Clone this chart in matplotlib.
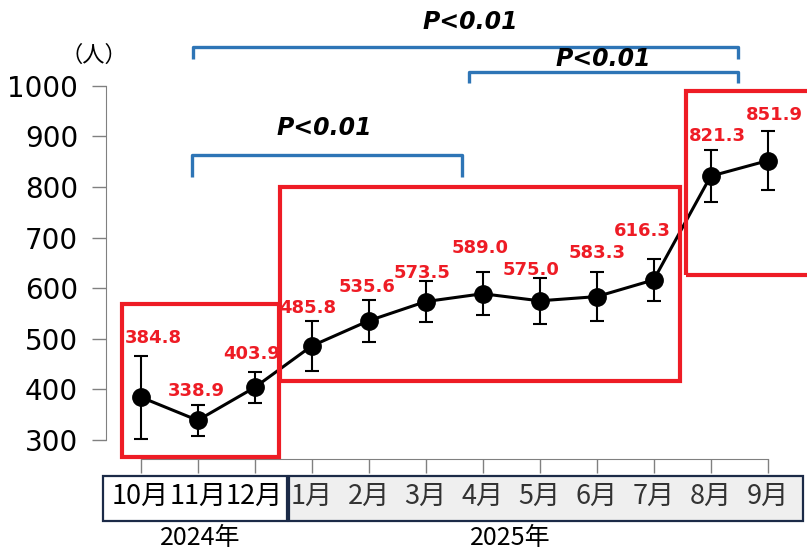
import matplotlib
matplotlib.use("Agg")
import matplotlib.pyplot as plt
from matplotlib.patches import Rectangle

plt.rcParams['font.family'] = ['DejaVu Sans', 'Noto Sans CJK JP']

# ---- data ----
months = ['10月', '11月', '12月', '1月', '2月', '3月', '4月', '5月', '6月', '7月', '8月', '9月']
means = [384.8, 338.9, 403.9, 485.8, 535.6, 573.5, 589.0, 575.0, 583.3, 616.3, 821.3, 851.9]
errors = [82, 31, 31, 49, 41, 40, 43, 45, 48, 41, 52, 58]
yticks = [300, 400, 500, 600, 700, 800, 900, 1000]
years = ['2024年', '2025年']
p_text = 'P<0.01'
unit = '（人）'

# ---- layout / style (not data) ----
label_offsets = [(9, 42.5), (-1, 21), (-2.5, 24), (-3, 27.5), (-1.5, 24.5), (-2.5, 20.5),
                 (-1.5, 33), (-6, 22), (0, 31.5), (-8.5, 35), (5, 29), (4.5, 33)]
RED = '#ee1c25'
BLUE = '#2e75b6'
NAVY = '#1b2a47'
CJK = ['Noto Sans CJK JP', 'DejaVu Sans']

W, H = 807, 551
fig = plt.figure(figsize=(W / 100, H / 100), dpi=100)
ax = fig.add_axes([106 / W, (H - 459) / H, (W - 106) / W, 459 / H])
ax.set_xlim(-0.609, 11.69)
ax.set_ylim(262.5, 1169.3)

x = list(range(len(months)))
ax.errorbar(x, means, yerr=errors, color='black', lw=2.2, marker='o', ms=12.5,
            ecolor='black', elinewidth=1.5, capsize=5, capthick=1.5, zorder=3)

for xi, v, off in zip(x, means, label_offsets):
    ax.annotate(f'{v:.1f}', (xi, v), xytext=off, textcoords='offset points',
                ha='center', va='center', color=RED, fontsize=13, fontweight='bold', zorder=4)

# spines
for s in ['top', 'right']:
    ax.spines[s].set_visible(False)
ax.spines['left'].set_bounds(300, 1000)
ax.spines['bottom'].set_bounds(0, 11)
ax.spines['left'].set_color('#808080')
ax.spines['bottom'].set_color('#808080')
ax.set_yticks(yticks)
ax.tick_params(axis='y', length=10, width=1, color='#808080', labelsize=20, pad=10)
ax.set_xticks(x)
ax.set_xticklabels(months, fontsize=19.5, family=CJK)
ax.tick_params(axis='x', length=10, width=1, color='#808080', pad=7)
for lbl in ax.get_xticklabels()[3:]:
    lbl.set_color('#333333')

# label boxes under x-axis
ax.add_patch(Rectangle((-0.667, 140.5), 2.572 + 0.667, 228.9 - 140.5, transform=ax.transData,
                       facecolor='white', edgecolor=NAVY, lw=1.6, clip_on=False, zorder=0))
ax.add_patch(Rectangle((2.607, 140.5), 11.614 - 2.607, 228.9 - 140.5, transform=ax.transData,
                       facecolor='#efefef', edgecolor=NAVY, lw=1.6, clip_on=False, zorder=0))
ax.text(1.05, 107, years[0], ha='center', va='center', fontsize=18, family=CJK, clip_on=False)
ax.text(6.48, 107, years[1], ha='center', va='center', fontsize=18, family=CJK, clip_on=False)

# red group boxes
for (x0, y0, x1, y1) in [(-0.33, 265.8, 2.42, 568.8), (2.444, 416.6, 9.46, 799.3),
                         (9.56, 626, 12.2, 989.7)]:
    ax.add_patch(Rectangle((x0, y0), x1 - x0, y1 - y0, facecolor='none', edgecolor=RED,
                           lw=3, clip_on=False, zorder=5))

# significance brackets
def bracket(x0, x1, ytop, ybot):
    ax.plot([x0, x0, x1, x1], [ybot, ytop, ytop, ybot], color=BLUE, lw=2.4,
            solid_joinstyle='round', solid_capstyle='butt', clip_on=False, zorder=2)

bracket(0.92, 10.48, 1077, 1052.8)
bracket(5.76, 10.48, 1026.5, 1004.7)
bracket(0.895, 5.63, 863, 820)
for (tx, ty) in [(5.79, 1125.9), (8.12, 1051.8), (3.22, 916.4)]:
    ax.text(tx, ty, p_text, ha='center', va='center', fontsize=17, fontweight='bold',
            fontstyle='italic', color='black')

fig.text(94 / W, 1 - 55 / H, unit, ha='center', va='center', fontsize=16, family=CJK)

fig.savefig('out.png', dpi=100)
